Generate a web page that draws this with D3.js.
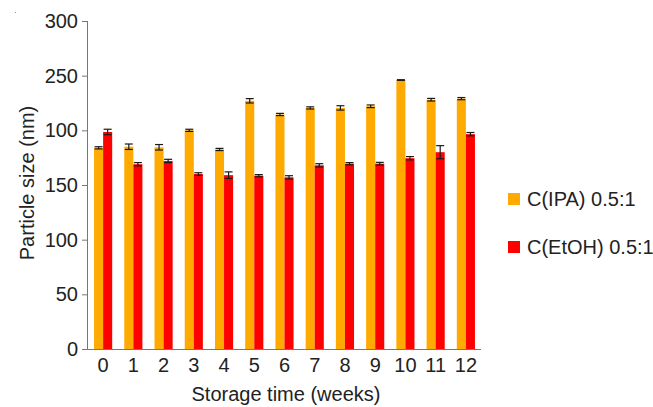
<!DOCTYPE html>
<html><head><meta charset="utf-8">
<script src="https://cdn.jsdelivr.net/npm/d3@7"></script>
<style>body{margin:0;background:#fff}svg{display:block}text{font-family:"Liberation Sans",Arial,sans-serif;fill:#222}</style>
</head><body>
<svg id="c" width="653" height="407"></svg>
<script>
const weeks = ["0","1","2","3","4","5","6","7","8","9","10","11","12"];
const seriesNames = ["C(IPA) 0.5:1","C(EtOH) 0.5:1"];
const ipa = [184,185,184.5,200,182.5,227,214.5,220.5,220.5,222,246,228,229];
const ipaErr = [1,2.5,2.5,1,1,2,1,1,2,1.2,0.3,1.2,1];
const etoh = [198.5,169,172,160,159,158.5,157,168,169.5,169.5,174.5,180,196.5];
const etohErr = [2.5,1.5,1.5,1.2,3,1,1.5,1.5,1,1.2,1.5,6,1.5];
const yTicks = [0,50,100,150,200,250,300];
const yTickLabels = ["0","50","100","150","100","250","300"];
const colors = ["#FFAA00","#FF0000"];

const svg = d3.select("#c");
const x0 = d3.scaleBand().domain(weeks).range([88,481]).paddingInner(0.4).paddingOuter(0.2);
const x1 = d3.scaleBand().domain([0,1]).range([0,x0.bandwidth()]);
const y = d3.scaleLinear().domain([0,300]).range([349,21]);

const data = weeks.map((w,i)=>[
  {w, s:0, v:ipa[i], e:ipaErr[i]},
  {w, s:1, v:etoh[i], e:etohErr[i]}
]).flat();

// bars
svg.append("g").selectAll("rect").data(data).join("rect")
  .attr("x",d=>x0(d.w)+x1(d.s))
  .attr("y",d=>y(d.v))
  .attr("width",x1.bandwidth())
  .attr("height",d=>y(0)-y(d.v))
  .attr("fill",d=>colors[d.s]);

// error bars
const eg = svg.append("g").attr("stroke","#1a1a1a").attr("stroke-width",1.2);
data.forEach(d=>{
  const cx = x0(d.w)+x1(d.s)+x1.bandwidth()/2;
  const y1 = y(d.v+d.e), y2 = y(d.v-d.e);
  eg.append("line").attr("x1",cx).attr("x2",cx).attr("y1",y1).attr("y2",y2);
  eg.append("line").attr("x1",cx-4).attr("x2",cx+4).attr("y1",y1).attr("y2",y1);
  eg.append("line").attr("x1",cx-4).attr("x2",cx+4).attr("y1",y2).attr("y2",y2);
});

// y axis
const ya = svg.append("g").attr("transform","translate(88,0)")
  .call(d3.axisLeft(y).tickValues(yTicks).tickSize(6).tickPadding(4).tickFormat((d,i)=>yTickLabels[i]));
ya.select(".domain").attr("stroke","#777").attr("d","M-0.5,21V349.5");
ya.selectAll(".tick line").attr("stroke","#777");
ya.selectAll("text").style("font-size","20px").attr("fill","#222");

// x axis
const xa = svg.append("g").attr("transform","translate(0,349.5)")
  .call(d3.axisBottom(x0).tickSize(0).tickPadding(8));
xa.select(".domain").attr("stroke","#777").attr("d","M87.5,0H481");
xa.selectAll("text").style("font-size","20px").attr("fill","#222");

// titles
svg.append("text").attr("x",286).attr("y",401).attr("text-anchor","middle").style("font-size","20px").text("Storage time (weeks)");
svg.append("text").attr("transform","translate(34,183) rotate(-90)").attr("text-anchor","middle").style("font-size","20px").text("Particle size (nm)");

// legend
const lg = svg.append("g");
seriesNames.forEach((n,i)=>{
  const yy = 193 + i*48;
  lg.append("rect").attr("x",508).attr("y",yy).attr("width",12).attr("height",12).attr("fill",colors[i]);
  lg.append("text").attr("x",527).attr("y",yy+13).style("font-size","20px").text(n);
});
svg.append("rect").attr("x",15).attr("y",12).attr("width",1).attr("height",1).attr("fill","#999");
</script>
</body></html>
